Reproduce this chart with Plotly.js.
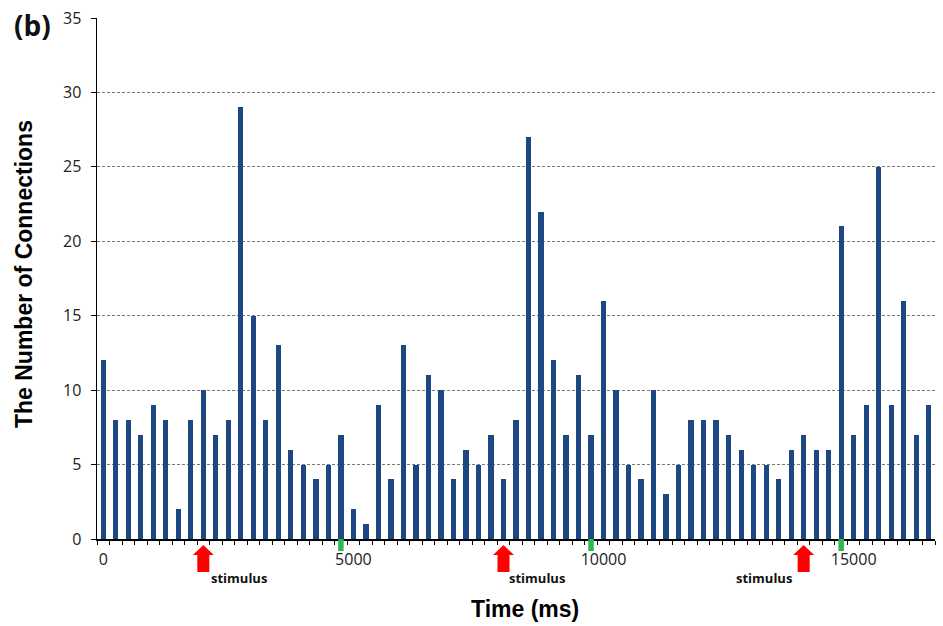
<!DOCTYPE html>
<html>
<head>
<meta charset="utf-8">
<script src="https://cdn.plot.ly/plotly-3.0.1.min.js"></script>
<style>html,body{margin:0;padding:0;background:#fff;}#chart{width:943px;height:626px;}</style>
</head>
<body>
<div id="chart"></div>
<script>
// Time of each bin (ms), 250 ms apart
var times = [0,250,500,750,1000,1250,1500,1750,2000,2250,2500,2750,3000,3250,3500,3750,4000,4250,4500,4750,
  5000,5250,5500,5750,6000,6250,6500,6750,7000,7250,7500,7750,8000,8250,8500,8750,9000,9250,9500,9750,
  10000,10250,10500,10750,11000,11250,11500,11750,12000,12250,12500,12750,13000,13250,13500,13750,14000,14250,14500,14750,
  15000,15250,15500,15750,16000,16250,16500];
// Number of connections per bin
var connections = [12,8,8,7,9,8,2,8,10,7,8,29,15,8,13,6,5,4,5,7,
  2,1,9,4,13,5,11,10,4,6,5,7,4,8,27,22,12,7,11,7,
  16,10,5,4,10,3,5,8,8,8,7,6,5,5,4,6,7,6,6,21,
  7,9,25,9,16,7,9];
var xTickVals = [0,5000,10000,15000];
var xTickText = ['0','5000','10000','15000'];
var stimulusTimes = [2000,8000,14000];
var markerTimes = [4750,9750,14750];

var shapes = [];
markerTimes.forEach(function(t){
  shapes.push({type:'rect', xref:'x', yref:'paper', x0:t-55, x1:t+55, y0:0, y1:-0.023,
    fillcolor:'#2fb84f', line:{width:0}, layer:'above'});
});
var tip=-0.0115, hb=-0.0307, bot=-0.0633;
stimulusTimes.forEach(function(c){
  var p = 'M '+c+','+tip+' L '+(c+210)+','+hb+' L '+(c+120)+','+hb+' L '+(c+120)+','+bot+
          ' L '+(c-120)+','+bot+' L '+(c-120)+','+hb+' L '+(c-210)+','+hb+' Z';
  shapes.push({type:'path', xref:'x', yref:'paper', path:p, fillcolor:'#ff0000', line:{width:0}});
});

var annotations = [
  {text:'<b>(b)</b>', xref:'paper', yref:'paper', x:-0.102, y:0.987, xanchor:'left', yanchor:'middle',
   showarrow:false, font:{family:'Open Sans', size:28, color:'#111'}},
  {text:'<b>stimulus</b>', xref:'x', yref:'paper', x:stimulusTimes[0]+110, y:-0.075, xanchor:'left', yanchor:'middle',
   showarrow:false, font:{family:'Open Sans', size:13, color:'#111'}},
  {text:'<b>stimulus</b>', xref:'x', yref:'paper', x:stimulusTimes[1]+80, y:-0.075, xanchor:'left', yanchor:'middle',
   showarrow:false, font:{family:'Open Sans', size:13, color:'#111'}},
  {text:'<b>stimulus</b>', xref:'x', yref:'paper', x:stimulusTimes[2]-200, y:-0.075, xanchor:'right', yanchor:'middle',
   showarrow:false, font:{family:'Open Sans', size:13, color:'#111'}},
  {text:'<b>The Number of Connections</b>', xref:'paper', yref:'paper', x:-0.0871, y:0.5086, textangle:-90,
   xanchor:'center', yanchor:'middle', showarrow:false, font:{family:'Liberation Sans', size:23, color:'#000'}},
  {text:'<b>Time (ms)</b>', xref:'paper', yref:'paper', x:0.5107, y:-0.1344,
   xanchor:'center', yanchor:'middle', showarrow:false, font:{family:'Liberation Sans', size:23, color:'#000'}}
];

var trace = {
  type:'bar', x:times, y:connections, width:105,
  marker:{color:'#1d4883', line:{width:0}}, hoverinfo:'x+y'
};

var layout = {
  width:943, height:626,
  margin:{l:97, r:8, t:18, b:87},
  paper_bgcolor:'#fff', plot_bgcolor:'#fff',
  showlegend:false,
  xaxis:{
    range:[-125,16625], tickmode:'array', tickvals:xTickVals, ticktext:xTickText,
    ticks:'', showgrid:false, zeroline:false,
    showline:true, linecolor:'#000', linewidth:1.5,
    tickfont:{family:'Open Sans', size:16, color:'#222'},
    ticklabelstandoff:5,
    minor:{tickmode:'linear', tick0:125, dtick:250, ticks:'outside', ticklen:4, tickcolor:'#000', tickwidth:1, showgrid:false}
  },
  yaxis:{
    range:[0,35], tickmode:'linear', tick0:0, dtick:5,
    ticks:'outside', ticklen:5, tickcolor:'#000', tickwidth:1,
    showline:true, linecolor:'#000', linewidth:1.5,
    showgrid:true, gridcolor:'#7a7a7a', gridwidth:1, griddash:'3px,2px',
    zeroline:false, ticklabelstandoff:6,
    tickfont:{family:'Open Sans', size:16, color:'#222'}
  },
  bargap:0,
  shapes:shapes,
  annotations:annotations
};

Plotly.newPlot('chart',[trace],layout,{displayModeBar:false, staticPlot:true});
</script>
</body>
</html>
